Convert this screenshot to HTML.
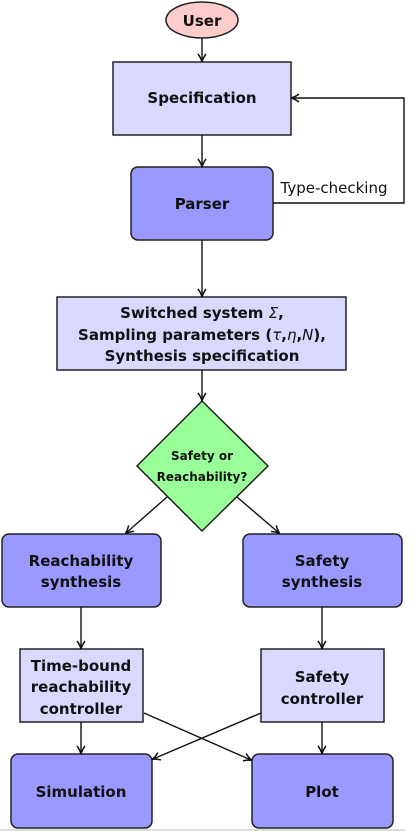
<!DOCTYPE html>
<html><head><style>
html,body{margin:0;padding:0;background:#fff;}
svg{display:block;}
text{font-family:"DejaVu Sans","Liberation Sans",sans-serif;fill:#111;text-anchor:middle;}
.b{font-weight:bold;font-size:15px;}
</style></head><body>
<svg width="418" height="831" viewBox="0 0 418 831" xmlns="http://www.w3.org/2000/svg">
<defs>
<marker id="a" markerWidth="10" markerHeight="10" refX="8" refY="5" orient="auto" markerUnits="userSpaceOnUse">
<path d="M1,1 Q5,4 9,5 Q5,6 1,9" fill="none" stroke="#111" stroke-width="1.5"/>
</marker>
</defs>
<g stroke="#222" stroke-width="1.5">
<ellipse cx="202" cy="20" rx="36" ry="18" fill="#ffcccc"/>
<rect x="113" y="62" width="178" height="73" fill="#d9d9ff"/>
<rect x="131" y="167" width="142" height="73" rx="7" fill="#9999ff"/>
<rect x="57" y="297" width="289" height="73" fill="#d9d9ff"/>
<polygon points="202,401 268,466 202,531 137,466" fill="#99ff99"/>
<rect x="2" y="534" width="159" height="73" rx="7" fill="#9999ff"/>
<rect x="243" y="534" width="159" height="73" rx="7" fill="#9999ff"/>
<rect x="20" y="649" width="123" height="73" fill="#d9d9ff"/>
<rect x="261" y="649" width="123" height="73" fill="#d9d9ff"/>
<rect x="11" y="754" width="141" height="74" rx="7" fill="#9999ff"/>
<rect x="252" y="754" width="141" height="74" rx="7" fill="#9999ff"/>
</g>
<g stroke="#111" stroke-width="1.4" fill="none" marker-end="url(#a)">
<line x1="202" y1="38" x2="202" y2="61"/>
<line x1="202" y1="135" x2="202" y2="166"/>
<polyline points="273,203 404,203 404,98 292,98"/>
<line x1="202" y1="240" x2="202" y2="296"/>
<line x1="202" y1="370" x2="202" y2="400"/>
<line x1="167" y1="497" x2="126" y2="533"/>
<line x1="237" y1="497" x2="279" y2="533"/>
<line x1="81" y1="607" x2="81" y2="648"/>
<line x1="322" y1="607" x2="322" y2="648"/>
<line x1="81" y1="722" x2="81" y2="753"/>
<line x1="322" y1="722" x2="322" y2="753"/>
<line x1="144" y1="713" x2="251" y2="760"/>
<line x1="261" y1="713" x2="153" y2="759"/>
</g>
<line x1="0" y1="830" x2="405" y2="830" stroke="#bbb" stroke-width="1"/>
<text class="b" x="202" y="26">User</text>
<text class="b" x="202" y="103">Specification</text>
<text class="b" x="202" y="209">Parser</text>
<text x="334" y="193" style="font-size:15px">Type-checking</text>
<text class="b" x="202" y="318">Switched system <tspan font-style="italic" font-weight="normal">Σ</tspan>,</text>
<text class="b" x="202" y="340">Sampling parameters (<tspan font-style="italic" font-weight="normal">τ</tspan>,<tspan font-style="italic" font-weight="normal">η</tspan>,<tspan font-style="italic" font-weight="normal">N</tspan>),</text>
<text class="b" x="202" y="361">Synthesis specification</text>
<text x="202" y="460" style="font-size:12px;font-weight:bold">Safety or</text>
<text x="202" y="481" style="font-size:12px;font-weight:bold">Reachability?</text>
<text class="b" x="81" y="566">Reachability</text>
<text class="b" x="81" y="587">synthesis</text>
<text class="b" x="322" y="566">Safety</text>
<text class="b" x="322" y="587">synthesis</text>
<text class="b" x="81" y="671">Time-bound</text>
<text class="b" x="81" y="692">reachability</text>
<text class="b" x="81" y="714">controller</text>
<text class="b" x="322" y="682">Safety</text>
<text class="b" x="322" y="704">controller</text>
<text class="b" x="81" y="797">Simulation</text>
<text class="b" x="322" y="797">Plot</text>
</svg>
</body></html>
